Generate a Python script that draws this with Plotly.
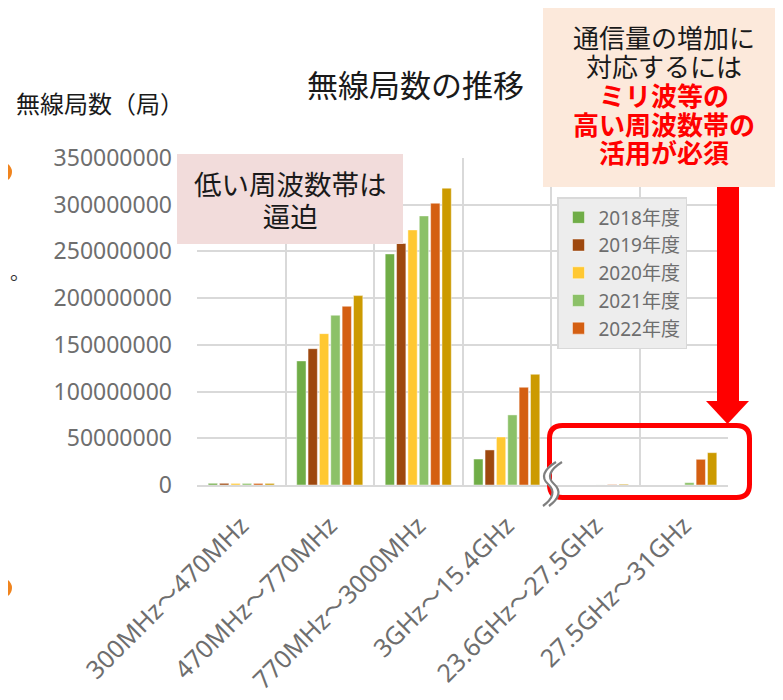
import plotly.graph_objects as go

# ---- data ----
categories = ["300MHz～470MHz", "470MHz～770MHz", "770MHz～3000MHz",
              "3GHz～15.4GHz", "23.6GHz～27.5GHz", "27.5GHz～31GHz"]
years = ["2018年度", "2019年度", "2020年度", "2021年度", "2022年度", "2023年度"]
v2018 = [1800000, 132800000, 247300000, 27800000, 0, 0]
v2019 = [1800000, 145900000, 258500000, 37500000, 0, 0]
v2020 = [1700000, 162000000, 273000000, 51400000, 0, 0]
v2021 = [1700000, 181700000, 288000000, 75000000, 50000, 2500000]
v2022 = [1700000, 191300000, 301600000, 104600000, 500000, 27500000]
v2023 = [1700000, 202700000, 317700000, 118500000, 800000, 34600000]
series = [v2018, v2019, v2020, v2021, v2022, v2023]
colors = ["#70AD47", "#9E480E", "#FFC832", "#8CC168", "#D45F12", "#CC9A00"]
yticks = [0, 50000000, 100000000, 150000000, 200000000, 250000000, 300000000, 350000000]

OFF = 8  # page body margin
W, H = 783 - OFF, 700 - OFF
L, R, T, B = 197, 728, 158, 485  # plot area in window pixels

def fx(x):
    return (x - L) / (R - L)

def fy(y):
    return (B - y) / (B - T)

def path(points, close=False):
    s = "M" + " L".join(f"{fx(x):.5f},{fy(y):.5f}" for x, y in points)
    return s + (" Z" if close else "")

fig = go.Figure()
for name, vals, col in zip(years, series, colors):
    fig.add_trace(go.Bar(
        name=name, x=categories, y=vals,
        marker=dict(color=col, line=dict(color="rgba(255,255,255,0.45)", width=1)),
        showlegend=(name != "2023年度"),
    ))

FONT = "Noto Sans, Noto Sans CJK JP, sans-serif"
GRAY = "#6E6E6E"

shapes = []
shapes.append(dict(type="rect", xref="paper", yref="paper",
                   x0=fx(177), x1=fx(403), y0=fy(244), y1=fy(154),
                   fillcolor="#F2DCDB", line=dict(width=0), layer="above"))
shapes.append(dict(type="rect", xref="paper", yref="paper",
                   x0=fx(543), x1=fx(795), y0=fy(187), y1=fy(6),
                   fillcolor="#FCE9DB", line=dict(width=0), layer="above"))
shapes.append(dict(type="rect", xref="paper", yref="paper",
                   x0=fx(717), x1=fx(739), y0=fy(404), y1=fy(187),
                   fillcolor="#FF0000", line=dict(width=0), layer="above"))
shapes.append(dict(type="path", xref="paper", yref="paper",
                   path=path([(706, 401), (749, 401), (727.5, 424)], close=True),
                   fillcolor="#FF0000", line=dict(width=0), layer="above"))
x0, x1, y0, y1, r = 549.5, 749.5, 425.5, 497.5, 13
rr = (f"M{fx(x0 + r):.5f},{fy(y0):.5f} L{fx(x1 - r):.5f},{fy(y0):.5f} "
      f"Q{fx(x1):.5f},{fy(y0):.5f} {fx(x1):.5f},{fy(y0 + r):.5f} "
      f"L{fx(x1):.5f},{fy(y1 - r):.5f} "
      f"Q{fx(x1):.5f},{fy(y1):.5f} {fx(x1 - r):.5f},{fy(y1):.5f} "
      f"L{fx(x0 + r):.5f},{fy(y1):.5f} "
      f"Q{fx(x0):.5f},{fy(y1):.5f} {fx(x0):.5f},{fy(y1 - r):.5f} "
      f"L{fx(x0):.5f},{fy(y0 + r):.5f} "
      f"Q{fx(x0):.5f},{fy(y0):.5f} {fx(x0 + r):.5f},{fy(y0):.5f} Z")
shapes.append(dict(type="path", xref="paper", yref="paper", path=rr,
                   line=dict(color="#FF0000", width=5), layer="above"))

def squig(dx):
    p = [(556 + dx, 462), (537 + dx, 474), (548 + dx, 484), (559 + dx, 494), (543 + dx, 506)]
    return (f"M{fx(p[0][0]):.5f},{fy(p[0][1]):.5f} "
            f"Q{fx(p[1][0]):.5f},{fy(p[1][1]):.5f} {fx(p[2][0]):.5f},{fy(p[2][1]):.5f} "
            f"Q{fx(p[3][0]):.5f},{fy(p[3][1]):.5f} {fx(p[4][0]):.5f},{fy(p[4][1]):.5f}")
shapes.append(dict(type="path", xref="paper", yref="paper", path=squig(3),
                   line=dict(color="white", width=6), layer="above"))
for d in (0, 6):
    shapes.append(dict(type="path", xref="paper", yref="paper", path=squig(d),
                       line=dict(color="#7F7F7F", width=2.2), layer="above"))

for cy in (172, 588):
    shapes.append(dict(type="circle", xref="paper", yref="paper",
                       x0=fx(-20), x1=fx(OFF + 4), y0=fy(cy + 12), y1=fy(cy - 12),
                       fillcolor="#F0841E", line=dict(width=0), layer="above"))

ann = []
def text(t, x, y, size, color="#1A1A1A", xanchor="center"):
    ann.append(dict(text=t, x=fx(x), y=fy(y),
                    xref="paper", yref="paper", xanchor=xanchor, yanchor="middle",
                    showarrow=False, borderpad=0,
                    font=dict(family=FONT, size=size, color=color)))

def big(t, px, bold=False, color=None):
    st = f"font-size:{px}px"
    if color:
        st += f";color:{color}"
    s = f'<span style="{st}">{t}</span>'
    return f"<b>{s}</b>" if bold else s

text("無線局数の推移", 415, 85, 31)
text("無線局数（局）", 15, 103, 24, xanchor="left")
# pink note: base size sets line pitch (1.3 x size) ~32px
text(big("低い周波数帯は", 27.5) + "<br>" + big("逼迫", 27.5), 290, 200, 24.6)
# callout: base size sets line pitch ~29px
callout = "<br>".join([
    big("通信量の増加に", 26),
    big("対応するには", 26),
    big("ミリ波等の", 26, True, "#FF0000"),
    big("高い周波数帯の", 26, True, "#FF0000"),
    big("活用が必須", 26, True, "#FF0000"),
])
text(callout, 664, 96, 22.2)
text("。", 9, 272, 20, color="#333333", xanchor="left")

fig.update_layout(
    width=W, height=H,
    margin=dict(l=L - OFF, r=W - (R - OFF), t=T - OFF, b=H - (B - OFF), pad=0,
                autoexpand=False),
    paper_bgcolor="white", plot_bgcolor="white",
    barmode="group", bargap=0.23, bargroupgap=0.18,
    font=dict(family=FONT, color=GRAY),
    shapes=shapes, annotations=ann,
    legend=dict(x=fx(557), y=fy(197), xanchor="left", yanchor="top",
                bgcolor="#EDEDED", bordercolor="#D9D9D9", borderwidth=1.5,
                font=dict(family=FONT, size=19, color=GRAY),
                traceorder="normal"),
    xaxis=dict(type="category", tickson="boundaries", showgrid=True,
               gridcolor="#D9D9D9", gridwidth=2, automargin=False,
               showline=True, linecolor="#D9D9D9", linewidth=2,
               ticks="", tickangle=-45, ticklabelstandoff=14,
               tickfont=dict(family=FONT, size=25, color=GRAY)),
    yaxis=dict(range=[0, 350000000], tickvals=yticks, tickformat="d",
               showgrid=True, gridcolor="#D9D9D9", gridwidth=2,
               zeroline=False, showline=False, ticks="", automargin=False,
               ticklabelstandoff=24,
               tickfont=dict(family=FONT, size=23, color=GRAY)),
)

fig.write_html("out.html")
